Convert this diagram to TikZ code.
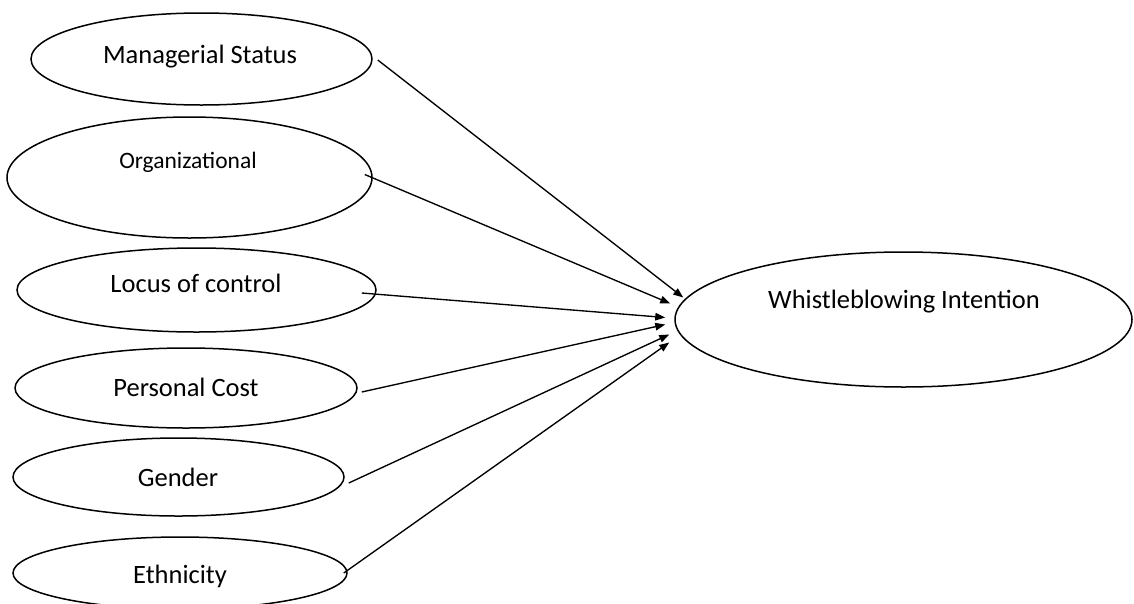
\documentclass[tikz,border=0pt]{standalone}
\usepackage{fontspec}
\setmainfont{Carlito}
\usetikzlibrary{shapes.geometric,arrows.meta}
\begin{document}
\begin{tikzpicture}[x=1pt,y=-1pt,
  oval/.style={draw, ellipse, line width=1.5pt, inner sep=0pt},
  lbl/.style={anchor=base, inner sep=0pt, font=\fontsize{26.5}{30}\selectfont},
  lblsmall/.style={anchor=base, inner sep=0pt, font=\fontsize{23.5}{27}\selectfont},
  link/.style={line width=1.35pt, -{Triangle[length=10pt,width=7.5pt]}}]
\useasboundingbox (0,0) rectangle (1134,603);
% ellipses
\node[oval, minimum width=341pt, minimum height=92pt] (ms) at (201.5,59) {};
\node[oval, minimum width=365pt, minimum height=121pt] (org) at (189.5,177.5) {};
\node[oval, minimum width=359pt, minimum height=84pt] (loc) at (196.5,290) {};
\node[oval, minimum width=342pt, minimum height=80pt] (pc) at (186,388) {};
\node[oval, minimum width=331pt, minimum height=78pt] (gen) at (178.5,477) {};
\node[oval, minimum width=334pt, minimum height=72pt] (eth) at (180,573) {};
\node[oval, minimum width=457pt, minimum height=135pt] (wi) at (903.5,319.5) {};
% labels
\node[lbl] (tms) at (200,63) {Managerial Status};
\node[lblsmall] (torg) at (188,168) {Organizational};
\node[lbl] (tloc) at (196,292) {Locus of control};
\node[lbl] (tpc) at (186,396) {Personal Cost};
\node[lbl] (tgen) at (178,486) {Gender};
\node[lbl] (teth) at (180,583) {Ethnicity};
\node[lbl] (twi) at (904,308) {Whistleblowing Intention};
% connectors
\draw[link] ([shift={(5,1)}]ms.east) -- ([shift={(9,-22)}]wi.west);
\draw[link] ([shift={(-8,-3)}]org.east) -- ([shift={(-4,-16)}]wi.west);
\draw[link] ([shift={(-15,3)}]loc.east) -- ([shift={(-9,-2)}]wi.west);
\draw[link] ([shift={(4,4)}]pc.east) -- ([shift={(-9,5)}]wi.west);
\draw[link] ([shift={(4,6)}]gen.east) -- ([shift={(-5,15)}]wi.west);
\draw[link] ([shift={(-4,0)}]eth.east) -- ([shift={(-5,23)}]wi.west);
\end{tikzpicture}
\end{document}
